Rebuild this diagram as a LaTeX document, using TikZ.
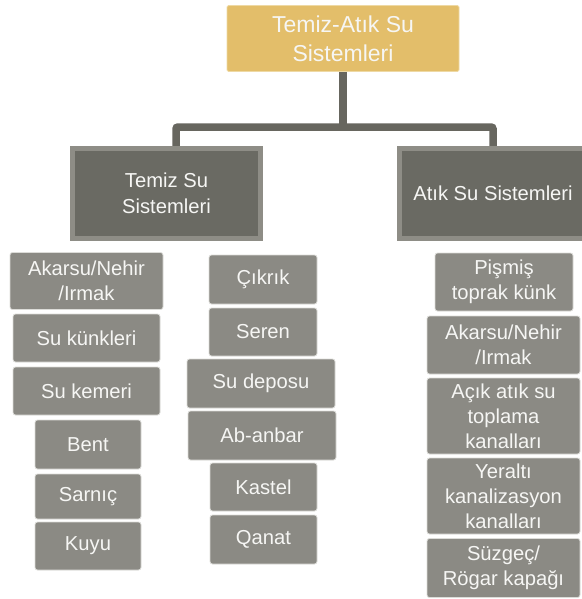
\documentclass[tikz,border=0pt]{standalone}
\usepackage{fontspec}
\setmainfont{Liberation Sans}
\usetikzlibrary{backgrounds}

\definecolor{gold}{HTML}{E3BE6A}
\definecolor{goldedge}{HTML}{EED9A4}
\definecolor{darkbox}{HTML}{6A6A63}
\definecolor{darkedge}{HTML}{8E8D86}
\definecolor{leafbox}{HTML}{8B8A84}
\definecolor{leafedge}{HTML}{DCDCD8}
\definecolor{wire}{HTML}{67665F}
\definecolor{lighttext}{HTML}{F6F6F4}

\tikzset{
  rootbox/.style={rectangle, rounded corners=1.5pt, fill=gold, draw=goldedge,
    line width=0.8pt, inner sep=0pt, outer sep=0pt, align=center,
    text=lighttext, font=\fontsize{23}{29}\selectfont},
  groupbox/.style={rectangle, fill=darkbox, draw=darkedge, line width=5pt,
    inner sep=0pt, outer sep=0pt, align=center, text=lighttext,
    font=\fontsize{20.2}{26}\selectfont},
  leaf/.style={rectangle, rounded corners=2.5pt, fill=leafbox, draw=leafedge,
    line width=0.8pt, inner sep=0pt, outer sep=0pt, align=center,
    text=lighttext, font=\fontsize{20.2}{25}\selectfont},
  wireline/.style={draw=wire, line width=7.5pt, rounded corners=2pt}
}

\begin{document}
\begin{tikzpicture}[x=1pt, y=-1pt]
  \useasboundingbox (0,0) rectangle (581,599);

  % root
  \node[rootbox, minimum width=232, minimum height=66] (top) at (343,38.5)
    {Temiz-Atık Su\\Sistemleri};

  % two main groups
  \node[groupbox, minimum width=188, minimum height=90] (temiz) at (166.5,193)
    {Temiz Su\\Sistemleri};
  \node[groupbox, minimum width=188, minimum height=90] (atik) at (493,193)
    {Atık Su Sistemleri};

  % bus of the tree
  \coordinate (jl) at (176,127);
  \coordinate (jr) at (493,127);
  \begin{scope}[on background layer]
    \draw[wireline] (top.south) -- (top.south |- jl);
    \draw[wireline] (temiz.north -| jl) -- (jl) -- (jr) -- (atik.north -| jr);
  \end{scope}

  % clean water: first column
  \node[leaf, minimum width=153, minimum height=57] (c1a) at (86.5,281) {Akarsu/Nehir\\/Irmak};
  \node[leaf, minimum width=147, minimum height=48] (c1b) at (86.5,338) {Su künkleri};
  \node[leaf, minimum width=147, minimum height=48] (c1c) at (86.5,391) {Su kemeri};
  \node[leaf, minimum width=106, minimum height=49] (c1d) at (88,444.5) {Bent};
  \node[leaf, minimum width=106, minimum height=45] (c1e) at (88,496.5) {Sarnıç};
  \node[leaf, minimum width=106, minimum height=48] (c1f) at (88,546) {Kuyu};

  % clean water: second column
  \node[leaf, minimum width=108, minimum height=49] (c2a) at (263,279.5) {Çıkrık};
  \node[leaf, minimum width=108, minimum height=48] (c2b) at (263,332) {Seren};
  \node[leaf, minimum width=148, minimum height=49] (c2c) at (261,383.5) {Su deposu};
  \node[leaf, minimum width=148, minimum height=49] (c2d) at (262,435.5) {Ab-anbar};
  \node[leaf, minimum width=107, minimum height=48] (c2e) at (263.5,487) {Kastel};
  \node[leaf, minimum width=107, minimum height=49] (c2f) at (263.5,539.5) {Qanat};

  % waste water column
  \node[leaf, minimum width=138, minimum height=58] (w1) at (504,282) {Pişmiş\\toprak künk};
  \node[leaf, minimum width=153, minimum height=58] (w2) at (503.5,345) {Akarsu/Nehir\\/Irmak};
  \node[leaf, minimum width=153, minimum height=76] (w3) at (503.5,416) {Açık atık su\\toplama\\kanalları};
  \node[leaf, minimum width=153, minimum height=76] (w4) at (503.5,496) {Yeraltı\\kanalizasyon\\kanalları};
  \node[leaf, minimum width=153, minimum height=59] (w5) at (503.5,568) {Süzgeç/\\Rögar kapağı};
\end{tikzpicture}
\end{document}
